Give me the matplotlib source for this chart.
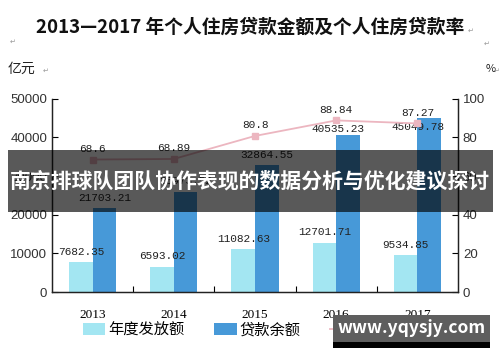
import matplotlib.pyplot as plt
import matplotlib.patches as mpatches
import numpy as np

plt.rcParams['font.family'] = ['Noto Sans CJK SC', 'DejaVu Sans']

years = ['2013', '2014', '2015', '2016', '2017']
issued = [7682.35, 6593.02, 11082.63, 12701.71, 9534.85]
balance = [21703.21, 25973.52, 32864.55, 40535.23, 45049.78]
rate = [68.6, 68.89, 80.8, 88.84, 87.27]

light = '#a3e6f2'
dark = '#4799d8'
pink = '#ecb6c0'
num_font = 'Liberation Mono'

# label nudges (points) for the balance labels, as placed in the source
dark_offsets = [(0, 4), (0, 4), (0, 4), (-7, 1), (-8, -10)]

fig = plt.figure(figsize=(5, 3.62), dpi=100)
ax = fig.add_axes([0.104, 0.193, 0.812, 0.534])
ax2 = ax.twinx()

x = np.arange(len(years))
w = 0.29
b1 = ax.bar(x - w / 2, issued, w, color=light, label='年度发放额', zorder=2)
b2 = ax.bar(x + w / 2, balance, w, color=dark, label='贷款余额', zorder=2)
ln, = ax2.plot(x, rate, color=pink, lw=1.3, marker='s', ms=4,
               markerfacecolor=pink, markeredgecolor=pink, label='个人住房贷款率')

for xi, v in zip(x - w / 2, issued):
    ax.annotate(f'{v:.2f}', (xi, v), xytext=(0, 4), textcoords='offset points',
                ha='center', va='bottom', fontsize=8, family=num_font, color='#222222')
for xi, v, off in zip(x + w / 2, balance, dark_offsets):
    ax.annotate(f'{v:.2f}', (xi, v), xytext=off, textcoords='offset points',
                ha='center', va='bottom', fontsize=8, family=num_font, color='#222222', zorder=5)
for xi, v in zip(x, rate):
    ax2.annotate(f'{v:g}', (xi, v), xytext=(0, 4), textcoords='offset points',
                 ha='center', va='bottom', fontsize=8, family=num_font, color='#222222')

ax.set_xlim(-0.5, len(years) - 0.5)
ax.set_ylim(0, 50000)
ax2.set_ylim(0, 100)
ax.set_yticks(range(0, 50001, 10000))
ax2.set_yticks(range(0, 101, 20))
ax.set_xticks(x)
ax.set_xticklabels(years, family='Liberation Serif', fontsize=9.5)
ax.set_xticks(np.arange(0.5, len(years) - 0.5), minor=True)
ax.tick_params(axis='x', which='major', length=0, pad=12)
ax.tick_params(axis='x', which='minor', direction='in', length=4, width=0.8)
ax.tick_params(axis='y', direction='in', length=4, width=0.8, labelsize=9.5)
ax2.tick_params(axis='y', direction='in', length=4, width=0.8, labelsize=9.5)
for lab in ax.get_yticklabels() + ax2.get_yticklabels():
    lab.set_family('Liberation Sans')
    lab.set_color('#333333')

for a in (ax, ax2):
    a.spines['top'].set_visible(False)
    for s in ('left', 'right', 'bottom'):
        a.spines[s].set_linewidth(0.9)
        a.spines[s].set_color('#222222')

fig.text(0.5, 0.925, '2013—2017 年个人住房贷款金额及个人住房贷款率', ha='center', va='center',
         fontsize=13.5, fontweight='bold', color='#111111')
fig.text(0.016, 0.81, '亿元', ha='left', va='center', fontsize=10, color='#222222')
fig.text(0.972, 0.81, '%', ha='left', va='center', fontsize=8, color='#222222')
# stray paragraph marks from the source document
for px, py in [(0.935, 0.915), (0.02, 0.885), (0.968, 0.88), (0.085, 0.805), (0.988, 0.805)]:
    fig.text(px, py, '↵', family='DejaVu Sans', fontsize=5, color='#999999', ha='left', va='center')

fig.legend(handles=[b1, b2, ln], loc='center', bbox_to_anchor=(0.545, 0.088), ncol=3,
           frameon=False, fontsize=11, handlelength=1.5, handleheight=0.8,
           columnspacing=1.9, handletextpad=0.2)

# watermark overlays from the source image
fig.patches.append(mpatches.Rectangle((0.016, 0.414), 0.97, 0.171, transform=fig.transFigure,
                                      facecolor='black', alpha=0.65, zorder=10))
fig.text(0.5, 0.499, '南京排球队团队协作表现的数据分析与优化建议探讨', ha='center', va='center',
         fontsize=15, fontweight='bold', color='white', zorder=11)
fig.patches.append(mpatches.Rectangle((0.666, 0.052), 0.314, 0.078, transform=fig.transFigure,
                                      facecolor='#5e5e5e', zorder=10))
fig.patches.append(mpatches.Rectangle((0.666, 0.038), 0.314, 0.016, transform=fig.transFigure,
                                      facecolor='black', zorder=10))
fig.text(0.823, 0.093, 'www.yqysjy.com', ha='center', va='center',
         fontsize=12.5, fontweight='bold', color='white', zorder=11)

fig.savefig('out.png', dpi=100)
